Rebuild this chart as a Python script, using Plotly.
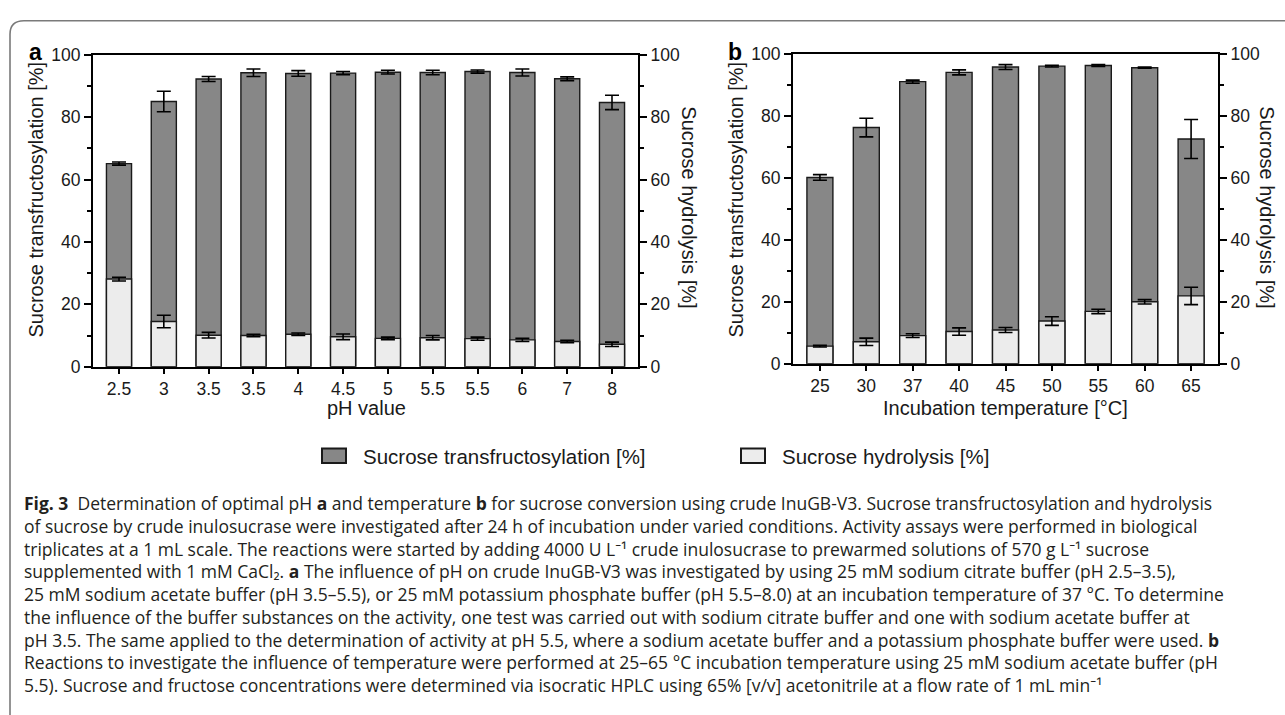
import plotly.graph_objects as go

W, H = 1285, 715

# ---------------- data ----------------
ph_labels = ["2.5", "3", "3.5", "3.5", "4", "4.5", "5", "5.5", "5.5", "6", "7", "8"]
ph_transfruc = [65.1, 85.0, 92.2, 94.2, 94.0, 94.1, 94.4, 94.3, 94.6, 94.3, 92.3, 84.7]
ph_transfruc_err = [0.5, 3.3, 0.8, 1.2, 0.9, 0.5, 0.6, 0.7, 0.5, 1.1, 0.6, 2.3]
ph_hydro = [28.1, 14.5, 10.1, 10.0, 10.4, 9.6, 9.1, 9.3, 9.0, 8.6, 8.1, 7.2]
ph_hydro_err = [0.6, 2.0, 0.9, 0.4, 0.4, 0.9, 0.4, 0.7, 0.5, 0.5, 0.4, 0.7]

temp_labels = ["25", "30", "37", "40", "45", "50", "55", "60", "65"]
temp_transfruc = [60.1, 76.2, 91.0, 94.0, 95.7, 96.0, 96.2, 95.5, 72.5]
temp_transfruc_err = [0.9, 3.0, 0.5, 0.8, 0.8, 0.3, 0.3, 0.2, 6.3]
temp_hydro = [5.7, 7.1, 9.1, 10.4, 10.9, 13.8, 16.9, 20.0, 21.9]
temp_hydro_err = [0.3, 1.2, 0.6, 1.2, 0.8, 1.4, 0.7, 0.7, 2.8]

series_names = ["Sucrose transfructosylation [%]", "Sucrose hydrolysis [%]"]
caption_lines = [
    "<b>Fig. 3</b>  Determination of optimal pH <b>a</b> and temperature <b>b</b> for sucrose conversion using crude InuGB-V3. Sucrose transfructosylation and hydrolysis",
    "of sucrose by crude inulosucrase were investigated after 24 h of incubation under varied conditions. Activity assays were performed in biological",
    "triplicates at a 1 mL scale. The reactions were started by adding 4000 U L⁻¹ crude inulosucrase to prewarmed solutions of 570 g L⁻¹ sucrose",
    "supplemented with 1 mM CaCl₂. <b>a</b> The influence of pH on crude InuGB-V3 was investigated by using 25 mM sodium citrate buffer (pH 2.5–3.5),",
    "25 mM sodium acetate buffer (pH 3.5–5.5), or 25 mM potassium phosphate buffer (pH 5.5–8.0) at an incubation temperature of 37 °C. To determine",
    "the influence of the buffer substances on the activity, one test was carried out with sodium citrate buffer and one with sodium acetate buffer at",
    "pH 3.5. The same applied to the determination of activity at pH 5.5, where a sodium acetate buffer and a potassium phosphate buffer were used. <b>b</b>",
    "Reactions to investigate the influence of temperature were performed at 25–65 °C incubation temperature using 25 mM sodium acetate buffer (pH",
    "5.5). Sucrose and fructose concentrations were determined via isocratic HPLC using 65% [v/v] acetonitrile at a flow rate of 1 mL min⁻¹",
]

# ---------------- style ----------------
DARK = "#878787"
LIGHT = "#ececec"
EDGE = "#1a1a1a"
FONT = "Liberation Sans, Arial, sans-serif"
CAPFONT = "Open Sans, Noto Sans, DejaVu Sans, sans-serif"
TXT = "#1a1a1a"


def px(x):
    return x / W


def py(y):
    return 1 - y / H


fig = go.Figure()


def bars(xs, ys, errs, color, xa, ya):
    return go.Bar(
        x=xs, y=ys, width=0.56, xaxis=xa, yaxis=ya,
        marker=dict(color=color, line=dict(color=EDGE, width=1.4)),
        error_y=dict(type="data", array=errs, color="#000000", thickness=1.6, width=7),
        showlegend=False, hoverinfo="skip",
    )


ia = list(range(len(ph_labels)))
ib = list(range(len(temp_labels)))
fig.add_trace(bars(ia, ph_transfruc, ph_transfruc_err, DARK, "x", "y"))
fig.add_trace(bars(ia, ph_hydro, ph_hydro_err, LIGHT, "x", "y2"))
fig.add_trace(bars(ib, temp_transfruc, temp_transfruc_err, DARK, "x2", "y3"))
fig.add_trace(bars(ib, temp_hydro, temp_hydro_err, LIGHT, "x2", "y4"))

tickfont = dict(family=FONT, size=17.5, color=TXT)


def xax(dom, n, labels, anchor):
    return dict(
        domain=dom, range=[-0.58, n - 1 + 0.58], tickvals=list(range(n)), ticktext=labels,
        ticks="outside", ticklen=5, tickwidth=2, tickcolor="black",
        showline=True, linewidth=2, linecolor="black", mirror=True,
        showgrid=False, zeroline=False, anchor=anchor, tickfont=tickfont, fixedrange=True,
    )


def yax(dom, anchor, side="left", overlaying=None):
    d = dict(
        domain=dom, range=[0, 100], tickvals=[0, 20, 40, 60, 80, 100],
        ticks="outside", ticklen=7, tickwidth=2, tickcolor="black",
        minor=dict(tickvals=[10, 30, 50, 70, 90], ticks="outside", ticklen=4, tickwidth=2, tickcolor="black"),
        showline=True, linewidth=2, linecolor="black",
        showgrid=False, zeroline=False, anchor=anchor, side=side, tickfont=tickfont, fixedrange=True,
    )
    if overlaying:
        d["overlaying"] = overlaying
    return d


ax_a = [px(93), px(638)]
ay_a = [py(367), py(46)]
bx_b = [px(793), px(1218)]
by_b = [py(364), py(45)]

fig.update_layout(
    xaxis=xax(ax_a, len(ph_labels), ph_labels, "y"),
    yaxis=yax(ay_a, "x"),
    yaxis2=yax(ay_a, "x", "right", "y"),
    xaxis2=xax(bx_b, len(temp_labels), temp_labels, "y3"),
    yaxis3=yax(by_b, "x2"),
    yaxis4=yax(by_b, "x2", "right", "y3"),
)

ann = []
tf = dict(family=FONT, size=20, color=TXT)
lf = dict(family=FONT, size=20.5, color=TXT)
# axis titles
ann.append(dict(text=series_names[0], x=px(36), y=py(195), textangle=-90, font=tf))
ann.append(dict(text=series_names[1], x=px(689), y=py(203), textangle=90, font=tf))
ann.append(dict(text="pH value", x=px(366), y=py(409), font=tf))
ann.append(dict(text=series_names[0], x=px(736), y=py(195), textangle=-90, font=tf))
ann.append(dict(text=series_names[1], x=px(1267), y=py(203), textangle=90, font=tf))
ann.append(dict(text="Incubation temperature [°C]", x=px(1005), y=py(409), font=tf))
# panel letters
ann.append(dict(text="<b>a</b>", x=px(35), y=py(43), font=dict(family=FONT, size=23, color="black")))
ann.append(dict(text="<b>b</b>", x=px(735), y=py(43), font=dict(family=FONT, size=23, color="black")))
# legend text
ann.append(dict(text=series_names[0], x=px(361), y=py(459), xanchor="left", font=lf))
ann.append(dict(text=series_names[1], x=px(780), y=py(459), xanchor="left", font=lf))
# caption as one text block (line spacing = 1.3 x font size)
cap_top, cap_bottom = 510.5, 691.3
ann.append(dict(text="<br>".join(caption_lines), x=px(22), y=py((cap_top + cap_bottom) / 2),
                xanchor="left", align="left",
                font=dict(family=CAPFONT, size=17.5, color="#231f20")))
for a in ann:
    a.setdefault("xref", "paper")
    a.setdefault("yref", "paper")
    a.setdefault("showarrow", False)
    a.setdefault("xanchor", "center")
    a.setdefault("yanchor", "middle")

shapes = []
# legend swatches
for x0, col in [(322, DARK), (741, LIGHT)]:
    shapes.append(dict(type="rect", xref="paper", yref="paper", x0=px(x0), x1=px(x0 + 24),
                       y0=py(466), y1=py(451), fillcolor=col, line=dict(color=EDGE, width=2)))
# outer frame (rounded top-left corner, cropped on right and bottom)
path = (f"M {px(1300)},{py(11)} L {px(24)},{py(11)} Q {px(10)},{py(11)} {px(10)},{py(25)} "
        f"L {px(10)},{py(730)}")
shapes.append(dict(type="path", xref="paper", yref="paper", path=path,
                   line=dict(color="#7a7a7a", width=1.6)))

fig.update_layout(
    width=W, height=H, margin=dict(l=0, r=0, t=0, b=0),
    paper_bgcolor="white", plot_bgcolor="rgba(0,0,0,0)",
    barmode="overlay", showlegend=False,
    annotations=ann, shapes=shapes,
)

fig.write_html(
    "out.html",
    config={"displayModeBar": False, "staticPlot": True},
    post_script="document.body.style.margin='0px';document.body.style.overflow='hidden';",
)
